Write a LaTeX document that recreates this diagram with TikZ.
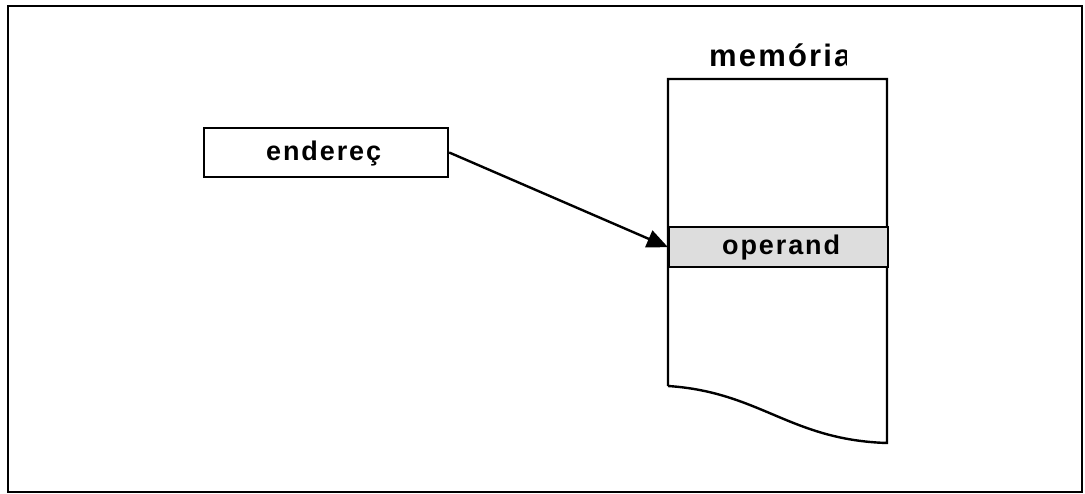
\documentclass[tikz,border=0pt]{standalone}
\usepackage{fontspec}
\setmainfont{Liberation Sans}
\newfontfamily\lblfont[LetterSpace=7]{Liberation Sans Bold}
\usetikzlibrary{arrows.meta}
\definecolor{cellgray}{HTML}{DDDDDD}
\tikzset{
  ln/.style={line width=2.4pt, draw=black},
  lbl/.style={font=\lblfont\fontsize{27}{29}\selectfont, inner sep=0pt},
}
\begin{document}
\begin{tikzpicture}[x=1pt,y=-1pt]
\useasboundingbox (0,0) rectangle (1085,494);
\draw[ln] (8,6) rectangle (1082,492);
% memory block
\draw[ln] (668,386) -- (668,79) -- (887,79) -- (887,443)
  .. controls (790,440) and (760,392) .. (668,386);
\node[ln, fill=cellgray, minimum width=219pt, minimum height=40pt, inner sep=0pt, anchor=north west] (op) at (668,226) {};
\node[lbl, anchor=base west] (optxt) at (722,255) {operand};
% title, clipped
\begin{scope}
\clip (690,30) rectangle (846,80);
\node[lbl, font=\lblfont\fontsize{31}{33}\selectfont, anchor=base west] (mem) at (709,67) {memória};
\end{scope}
% address box
\node[ln, minimum width=244pt, minimum height=49pt, inner sep=0pt] (addr) at (326,152.5) {};
\node[lbl, anchor=base west] (addrtxt) at (266,161) {endereç};
\draw[line width=2.4pt, -{Triangle[length=21pt,width=18pt]}] (addr.east) -- (op.west);
\end{tikzpicture}
\end{document}
